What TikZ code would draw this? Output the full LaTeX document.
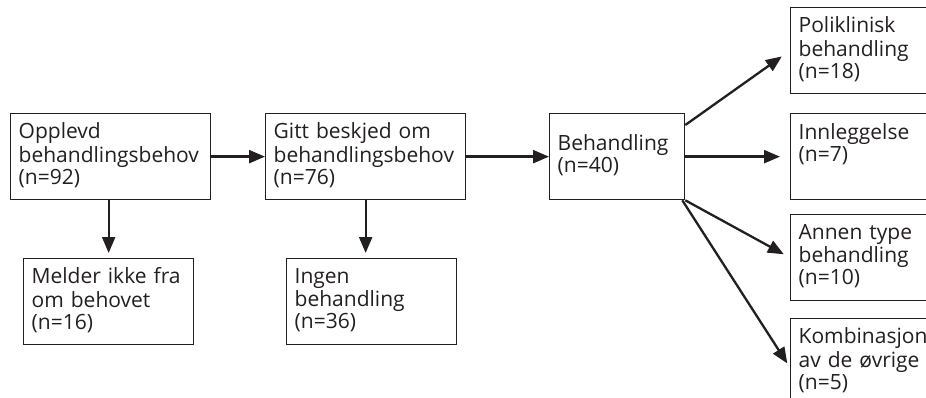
\documentclass[tikz,border=0pt]{standalone}
\usepackage{fontspec}
\setmainfont{Open Sans}
\usetikzlibrary{arrows.meta,calc}
\definecolor{ink}{HTML}{231F20}
\begin{document}
\begin{tikzpicture}[x=1pt,y=-1pt,
  box/.style={draw=ink, line width=1.3pt, rectangle, anchor=north west,
    inner xsep=8pt, inner ysep=0pt, minimum height=86pt, align=left,
    text=ink, font=\fontsize{21}{22}\selectfont,
    execute at begin node=\strut, execute at end node=\strut},
  arr/.style={draw=ink, line width=2.3pt,
    -{Triangle[length=16pt,width=13pt]}}]
\path[use as bounding box] (0,0) rectangle (926,398);
\clip (0,0) rectangle (926,398);

% main chain
\node[box, text width=184pt] (opp) at (10,113) {Opplevd\\behandlingsbehov\\(n=92)};
\node[box, text width=184pt] (gitt) at (265,113) {Gitt beskjed om\\behandlingsbehov\\(n=76)};
\node[box, text width=119pt] (beh) at (549,113) {Behandling\\(n=40)};

% branches downwards
\node[box, text width=154pt] (mel) at (23,258) {Melder ikke fra\\om behovet\\(n=16)};
\node[box, text width=154pt] (ing) at (286,258) {Ingen\\behandling\\(n=36)};

% kinds of treatment
\node[box, text width=170pt] (pol) at (790,7) {Poliklinisk\\behandling\\(n=18)};
\node[box, text width=170pt] (inn) at (790,113) {Innleggelse\\(n=7)\\};
\node[box, text width=170pt] (ann) at (790,214) {Annen type\\behandling\\(n=10)};
\node[box, text width=170pt] (kom) at (790,318) {Kombinasjon\\av de øvrige\\(n=5)};

% connectors
\draw[arr] (opp.east) -- (gitt.west);
\draw[arr] (gitt.east) -- (beh.west);
\draw[arr, shorten >=5pt] (mel.north |- opp.south) -- (mel.north);
\draw[arr, shorten >=5pt] (gitt.south) -- (gitt.south |- ing.north);
\draw[arr, shorten >=10pt] ($(beh.north east)+(0,12)$) -- (pol.west);
\draw[arr, shorten >=10pt] (beh.east) -- (inn.west);
\draw[arr, shorten >=7pt] (beh.south east) -- (ann.west);
\draw[arr, shorten >=5pt] ($(beh.south east)+(-3,0)$) -- ($(kom.west)+(0,6)$);
\end{tikzpicture}
\end{document}
